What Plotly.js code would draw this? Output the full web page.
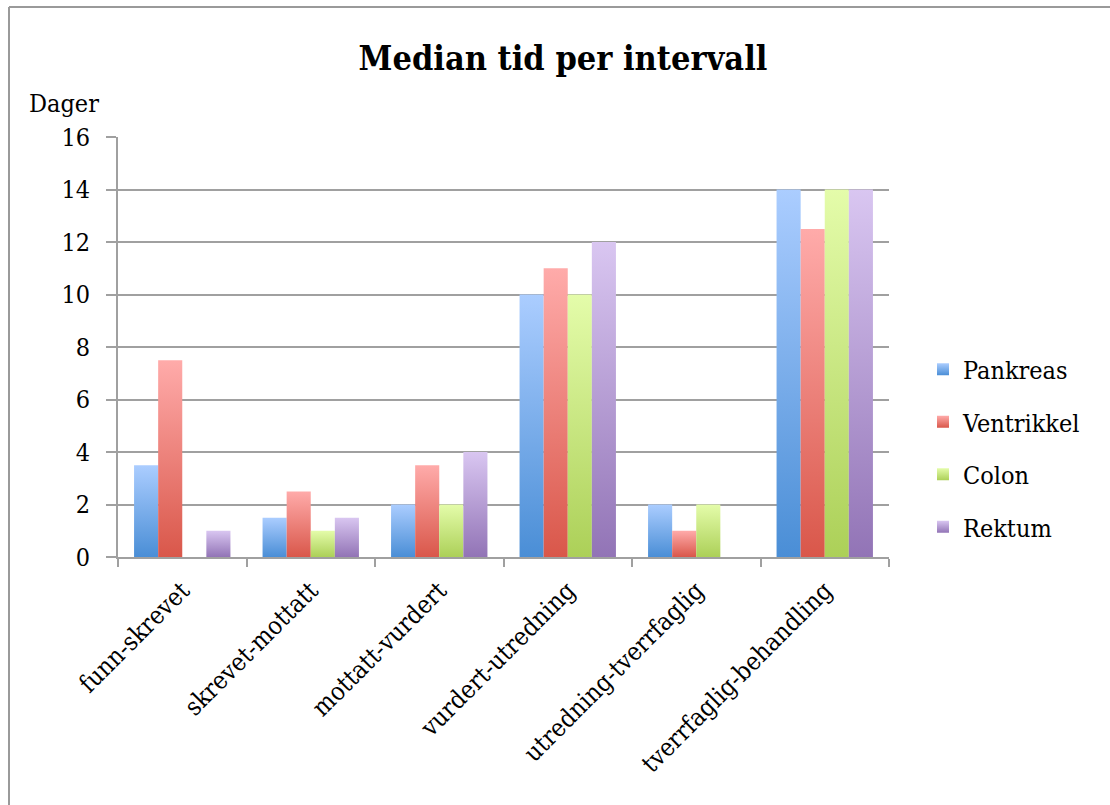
<!DOCTYPE html>
<html>
<head>
<meta charset="utf-8">
<script src="https://cdn.plot.ly/plotly-3.0.1.min.js"></script>
<style>
  html, body { margin: 0; padding: 0; background: #fff; }
  #chart { width: 1110px; height: 805px; }
</style>
</head>
<body>
<div id="chart"></div>
<script>
const categories = ["funn-skrevet", "skrevet-mottatt", "mottatt-vurdert", "vurdert-utredning", "utredning-tverrfaglig", "tverrfaglig-behandling"];
const seriesNames = ["Pankreas", "Ventrikkel", "Colon", "Rektum"];
const pankreas   = [3.5, 1.5, 2, 10, 2, 14];
const ventrikkel = [7.5, 2.5, 3.5, 11, 1, 12.5];
const colon      = [null, 1, 2, 10, 2, 14];
const rektum     = [1, 1.5, 4, 12, null, 14];
const yTicks = [0, 2, 4, 6, 8, 10, 12, 14, 16];

const seriesValues = [pankreas, ventrikkel, colon, rektum];
const midColors = ["#7aaee9", "#ec8078", "#c8e47f", "#b59fd6"];
const gradStops = [
  ["#4a8ed6", "#abcdff"],
  ["#d9574a", "#ffabaa"],
  ["#acd058", "#e4fcaa"],
  ["#9274b6", "#d9c6f1"]
];

const FONT = "'DejaVu Serif Condensed', 'DejaVu Serif', serif";

const traces = seriesNames.map((name, i) => ({
  type: "bar",
  name: name,
  x: categories,
  y: seriesValues[i],
  marker: { color: midColors[i], line: { width: 0 } },
  legendgroup: "g" + i,
  hoverinfo: "x+y+name"
}));

const L = 118, R = 889, T = 137, B = 557, W = 1110, H = 805;
const pw = R - L, ph = B - T;
const px = v => (v - L) / pw;
const py = v => (B - v) / ph;

const layout = {
  width: W,
  height: H,
  margin: { l: L, r: W - R, t: T, b: H - B, pad: 0 },
  paper_bgcolor: "#ffffff",
  plot_bgcolor: "#ffffff",
  font: { family: FONT, size: 24, color: "#000" },
  title: {
    text: "<b>Median tid per intervall</b>",
    font: { family: FONT, size: 34, color: "#000" },
    x: 563 / W, xref: "container", xanchor: "center",
    y: 1 - 58 / H, yref: "container", yanchor: "middle"
  },
  barmode: "group",
  bargap: 0.25,
  bargroupgap: 0,
  xaxis: {
    type: "category",
    tickson: "boundaries",
    ticks: "outside",
    ticklen: 8,
    tickwidth: 2,
    tickcolor: "#a0a0a0",
    showline: true,
    linecolor: "#a0a0a0",
    linewidth: 2,
    showgrid: false,
    tickangle: -45,
    ticklabelstandoff: 7,
    tickfont: { family: FONT, size: 25, color: "#000" }
  },
  yaxis: {
    range: [0, 16],
    tickvals: yTicks,
    ticktext: yTicks.map(String),
    ticks: "outside",
    ticklen: 10,
    tickwidth: 2,
    tickcolor: "#a0a0a0",
    showline: true,
    linecolor: "#a0a0a0",
    linewidth: 2,
    showgrid: true,
    gridcolor: "#a0a0a0",
    gridwidth: 2,
    zeroline: false,
    ticklabelstandoff: 11,
    tickfont: { family: FONT, size: 25, color: "#000" }
  },
  legend: {
    x: px(923), xanchor: "left",
    y: py(448), yanchor: "middle",
    font: { family: FONT, size: 25, color: "#000" },
    tracegroupgap: 17,
    itemwidth: 30,
    bgcolor: "rgba(0,0,0,0)"
  },
  annotations: [{
    text: "Dager",
    xref: "paper", yref: "paper",
    x: px(27), y: py(103),
    xanchor: "left", yanchor: "middle",
    showarrow: false,
    font: { family: FONT, size: 25, color: "#000" }
  }],
  shapes: [
    { type: "line", xref: "paper", yref: "paper", x0: px(9), x1: px(9), y0: py(H + 5), y1: py(7), line: { color: "#9a9a9a", width: 2 } },
    { type: "line", xref: "paper", yref: "paper", x0: px(9), x1: px(W + 5), y0: py(7), y1: py(7), line: { color: "#9a9a9a", width: 2 } }
  ],
  showlegend: true
};

function applyGradients(gd) {
  const svg = gd.querySelector("svg.main-svg");
  if (!svg) return;
  const ns = "http://www.w3.org/2000/svg";
  let defs = svg.querySelector("defs");
  if (!defs) { defs = document.createElementNS(ns, "defs"); svg.insertBefore(defs, svg.firstChild); }
  gradStops.forEach((st, i) => {
    const g = document.createElementNS(ns, "linearGradient");
    g.setAttribute("id", "bargrad" + i);
    g.setAttribute("x1", "0"); g.setAttribute("y1", "1");
    g.setAttribute("x2", "0"); g.setAttribute("y2", "0");
    const s0 = document.createElementNS(ns, "stop");
    s0.setAttribute("offset", "0"); s0.setAttribute("stop-color", st[0]);
    const s1 = document.createElementNS(ns, "stop");
    s1.setAttribute("offset", "1"); s1.setAttribute("stop-color", st[1]);
    g.appendChild(s0); g.appendChild(s1);
    defs.appendChild(g);
  });
  const barTraces = gd.querySelectorAll("g.barlayer g.trace.bars");
  barTraces.forEach((tr, i) => {
    tr.querySelectorAll("path").forEach(p => { p.style.fill = "url(#bargrad" + i + ")"; });
  });
  const legendTraces = gd.querySelectorAll("g.legend g.traces");
  legendTraces.forEach((tr, i) => {
    tr.querySelectorAll("g.legendpoints path").forEach(p => { p.style.fill = "url(#bargrad" + i + ")"; });
  });
}

Plotly.newPlot("chart", traces, layout, { displayModeBar: false, staticPlot: true }).then(gd => {
  applyGradients(gd);
});
</script>
</body>
</html>
